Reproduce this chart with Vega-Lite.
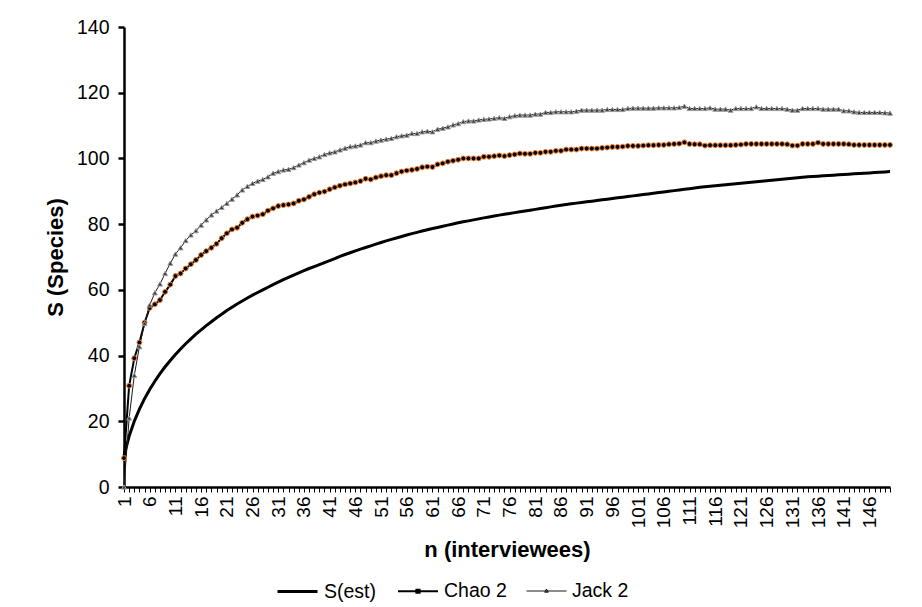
{
"$schema":"https://vega.github.io/schema/vega-lite/v6.json",
"width":766,"height":460,
"autosize":{"type":"none"},
"padding":{"left":124,"top":27,"right":32,"bottom":120},
"background":"white",
"config":{"font":"Liberation Sans","view":{"stroke":null},"axis":{"labelColor":"#000","titleColor":"#000","labelFont":"Liberation Sans","titleFont":"Liberation Sans"}},
"data":{"values":[
{"n":1,"sest":9.5,"chao2":8.8,"jack2":0},
{"n":2,"sest":15.5,"chao2":30.8,"jack2":21},
{"n":3,"sest":20,"chao2":39.2,"jack2":34},
{"n":4,"sest":23.7,"chao2":44,"jack2":42.7},
{"n":5,"sest":26.9,"chao2":50,"jack2":49.8},
{"n":6,"sest":29.7,"chao2":54.5,"jack2":55.4},
{"n":7,"sest":32.2,"chao2":55.6,"jack2":59.1},
{"n":8,"sest":34.5,"chao2":56.9,"jack2":61.8},
{"n":9,"sest":36.6,"chao2":59.4,"jack2":65},
{"n":10,"sest":38.5,"chao2":61.6,"jack2":68.1},
{"n":11,"sest":40.3,"chao2":64.2,"jack2":70.9},
{"n":12,"sest":42,"chao2":65,"jack2":72.8},
{"n":13,"sest":43.6,"chao2":66.5,"jack2":75},
{"n":14,"sest":45.1,"chao2":67.8,"jack2":76.7},
{"n":15,"sest":46.5,"chao2":69.1,"jack2":78},
{"n":16,"sest":47.8,"chao2":70.6,"jack2":79.7},
{"n":17,"sest":49.1,"chao2":71.8,"jack2":81.3},
{"n":18,"sest":50.3,"chao2":72.8,"jack2":82.8},
{"n":19,"sest":51.5,"chao2":74,"jack2":84},
{"n":20,"sest":52.6,"chao2":75.7,"jack2":85.1},
{"n":21,"sest":53.7,"chao2":77.2,"jack2":86.3},
{"n":22,"sest":54.7,"chao2":78.4,"jack2":87.6},
{"n":23,"sest":55.7,"chao2":78.9,"jack2":88.9},
{"n":24,"sest":56.6,"chao2":80.4,"jack2":90.4},
{"n":25,"sest":57.5,"chao2":81.5,"jack2":91.5},
{"n":26,"sest":58.4,"chao2":82.3,"jack2":92.4},
{"n":27,"sest":59.2,"chao2":82.6,"jack2":93.1},
{"n":28,"sest":60,"chao2":83,"jack2":93.6},
{"n":29,"sest":60.8,"chao2":84.1,"jack2":94.4},
{"n":30,"sest":61.6,"chao2":84.8,"jack2":95.5},
{"n":31,"sest":62.35,"chao2":85.5,"jack2":96},
{"n":32,"sest":63.1,"chao2":85.8,"jack2":96.5},
{"n":33,"sest":63.8,"chao2":86,"jack2":96.7},
{"n":34,"sest":64.5,"chao2":86.3,"jack2":97.2},
{"n":35,"sest":65.2,"chao2":87.1,"jack2":98},
{"n":36,"sest":65.85,"chao2":87.5,"jack2":98.7},
{"n":37,"sest":66.5,"chao2":88.3,"jack2":99.5},
{"n":38,"sest":67.1,"chao2":89.1,"jack2":100},
{"n":39,"sest":67.7,"chao2":89.6,"jack2":100.5},
{"n":40,"sest":68.3,"chao2":89.9,"jack2":101.2},
{"n":41,"sest":68.9,"chao2":90.6,"jack2":101.7},
{"n":42,"sest":69.5,"chao2":91.2,"jack2":102},
{"n":43,"sest":70.2,"chao2":91.7,"jack2":102.6},
{"n":44,"sest":70.75,"chao2":92.1,"jack2":103.1},
{"n":45,"sest":71.3,"chao2":92.4,"jack2":103.6},
{"n":46,"sest":71.85,"chao2":92.7,"jack2":103.8},
{"n":47,"sest":72.4,"chao2":93.1,"jack2":104.1},
{"n":48,"sest":72.9,"chao2":93.8,"jack2":104.8},
{"n":49,"sest":73.4,"chao2":93.6,"jack2":104.8},
{"n":50,"sest":73.9,"chao2":94.2,"jack2":105.3},
{"n":51,"sest":74.4,"chao2":94.6,"jack2":105.6},
{"n":52,"sest":74.9,"chao2":94.9,"jack2":105.9},
{"n":53,"sest":75.35,"chao2":94.9,"jack2":106.1},
{"n":54,"sest":75.8,"chao2":95.5,"jack2":106.6},
{"n":55,"sest":76.25,"chao2":96,"jack2":106.9},
{"n":56,"sest":76.7,"chao2":96.3,"jack2":107.1},
{"n":57,"sest":77.1,"chao2":96.5,"jack2":107.6},
{"n":58,"sest":77.5,"chao2":96.8,"jack2":107.6},
{"n":59,"sest":77.9,"chao2":97.3,"jack2":108.1},
{"n":60,"sest":78.3,"chao2":97.5,"jack2":108.3},
{"n":61,"sest":78.65,"chao2":97.4,"jack2":108.1},
{"n":62,"sest":79,"chao2":98.2,"jack2":108.9},
{"n":63,"sest":79.35,"chao2":98.5,"jack2":109.2},
{"n":64,"sest":79.7,"chao2":99,"jack2":109.6},
{"n":65,"sest":80.05,"chao2":99.3,"jack2":110.2},
{"n":66,"sest":80.4,"chao2":99.6,"jack2":110.6},
{"n":67,"sest":80.7,"chao2":100,"jack2":111.2},
{"n":68,"sest":81,"chao2":100,"jack2":111.4},
{"n":69,"sest":81.3,"chao2":100,"jack2":111.4},
{"n":70,"sest":81.6,"chao2":100,"jack2":111.7},
{"n":71,"sest":81.9,"chao2":100.5,"jack2":111.9},
{"n":72,"sest":82.2,"chao2":100.5,"jack2":112},
{"n":73,"sest":82.5,"chao2":100.7,"jack2":112.2},
{"n":74,"sest":82.75,"chao2":100.9,"jack2":112.4},
{"n":75,"sest":83,"chao2":100.7,"jack2":112.2},
{"n":76,"sest":83.25,"chao2":101,"jack2":112.7},
{"n":77,"sest":83.5,"chao2":101.2,"jack2":113},
{"n":78,"sest":83.75,"chao2":101.5,"jack2":113.2},
{"n":79,"sest":84,"chao2":101.4,"jack2":113.2},
{"n":80,"sest":84.25,"chao2":101.4,"jack2":113.2},
{"n":81,"sest":84.5,"chao2":101.7,"jack2":113.5},
{"n":82,"sest":84.75,"chao2":101.7,"jack2":113.5},
{"n":83,"sest":85,"chao2":102,"jack2":114},
{"n":84,"sest":85.25,"chao2":102,"jack2":114},
{"n":85,"sest":85.5,"chao2":102.3,"jack2":114.2},
{"n":86,"sest":85.75,"chao2":102.3,"jack2":114.2},
{"n":87,"sest":85.97,"chao2":102.7,"jack2":114.2},
{"n":88,"sest":86.2,"chao2":102.7,"jack2":114.2},
{"n":89,"sest":86.4,"chao2":102.7,"jack2":114.4},
{"n":90,"sest":86.6,"chao2":103,"jack2":114.7},
{"n":91,"sest":86.8,"chao2":103,"jack2":114.7},
{"n":92,"sest":87,"chao2":103,"jack2":114.7},
{"n":93,"sest":87.2,"chao2":103,"jack2":114.7},
{"n":94,"sest":87.4,"chao2":103.2,"jack2":114.7},
{"n":95,"sest":87.6,"chao2":103.3,"jack2":114.9},
{"n":96,"sest":87.8,"chao2":103.5,"jack2":114.9},
{"n":97,"sest":88,"chao2":103.5,"jack2":114.9},
{"n":98,"sest":88.2,"chao2":103.6,"jack2":114.9},
{"n":99,"sest":88.4,"chao2":103.8,"jack2":115.2},
{"n":100,"sest":88.6,"chao2":103.8,"jack2":115.3},
{"n":101,"sest":88.8,"chao2":103.8,"jack2":115.3},
{"n":102,"sest":89,"chao2":103.9,"jack2":115.3},
{"n":103,"sest":89.2,"chao2":104,"jack2":115.3},
{"n":104,"sest":89.4,"chao2":104,"jack2":115.3},
{"n":105,"sest":89.6,"chao2":104.1,"jack2":115.4},
{"n":106,"sest":89.8,"chao2":104.1,"jack2":115.4},
{"n":107,"sest":90,"chao2":104.3,"jack2":115.4},
{"n":108,"sest":90.2,"chao2":104.4,"jack2":115.4},
{"n":109,"sest":90.4,"chao2":104.5,"jack2":115.5},
{"n":110,"sest":90.6,"chao2":104.9,"jack2":115.9},
{"n":111,"sest":90.8,"chao2":104.4,"jack2":115.2},
{"n":112,"sest":91,"chao2":104.3,"jack2":115.2},
{"n":113,"sest":91.2,"chao2":104.3,"jack2":115.2},
{"n":114,"sest":91.4,"chao2":103.9,"jack2":115.2},
{"n":115,"sest":91.55,"chao2":104,"jack2":115.4},
{"n":116,"sest":91.7,"chao2":104,"jack2":115},
{"n":117,"sest":91.85,"chao2":104,"jack2":115},
{"n":118,"sest":92,"chao2":104,"jack2":115},
{"n":119,"sest":92.15,"chao2":104,"jack2":114.7},
{"n":120,"sest":92.3,"chao2":104.1,"jack2":115.2},
{"n":121,"sest":92.45,"chao2":104.2,"jack2":115.2},
{"n":122,"sest":92.6,"chao2":104.4,"jack2":115.2},
{"n":123,"sest":92.75,"chao2":104.4,"jack2":115.2},
{"n":124,"sest":92.9,"chao2":104.4,"jack2":115.7},
{"n":125,"sest":93.05,"chao2":104.4,"jack2":115.2},
{"n":126,"sest":93.2,"chao2":104.4,"jack2":115.2},
{"n":127,"sest":93.35,"chao2":104.4,"jack2":115.2},
{"n":128,"sest":93.5,"chao2":104.4,"jack2":115.2},
{"n":129,"sest":93.65,"chao2":104.4,"jack2":115.2},
{"n":130,"sest":93.8,"chao2":104.3,"jack2":115},
{"n":131,"sest":93.95,"chao2":103.9,"jack2":114.7},
{"n":132,"sest":94.1,"chao2":103.9,"jack2":114.7},
{"n":133,"sest":94.25,"chao2":104.4,"jack2":115.2},
{"n":134,"sest":94.4,"chao2":104.4,"jack2":115.2},
{"n":135,"sest":94.5,"chao2":104.4,"jack2":115.2},
{"n":136,"sest":94.6,"chao2":104.8,"jack2":115.2},
{"n":137,"sest":94.7,"chao2":104.4,"jack2":115},
{"n":138,"sest":94.8,"chao2":104.4,"jack2":115},
{"n":139,"sest":94.9,"chao2":104.4,"jack2":115},
{"n":140,"sest":95,"chao2":104.4,"jack2":115},
{"n":141,"sest":95.1,"chao2":104.4,"jack2":114.5},
{"n":142,"sest":95.2,"chao2":104.3,"jack2":114.5},
{"n":143,"sest":95.3,"chao2":104.1,"jack2":114.2},
{"n":144,"sest":95.4,"chao2":104.1,"jack2":114},
{"n":145,"sest":95.5,"chao2":104.1,"jack2":114},
{"n":146,"sest":95.6,"chao2":104.1,"jack2":114},
{"n":147,"sest":95.7,"chao2":104.1,"jack2":114},
{"n":148,"sest":95.8,"chao2":104.1,"jack2":114},
{"n":149,"sest":95.9,"chao2":104.1,"jack2":113.9},
{"n":150,"sest":96,"chao2":104.1,"jack2":113.8}
]},
"transform":[{"fold":["sest","chao2","jack2"],"as":["series","S"]}],
"encoding":{
 "x":{"field":"n","type":"quantitative","scale":{"domain":[1,150],"nice":false,"zero":false},
  "axis":{"title":"n (interviewees)","titleFontSize":22,"titleFontWeight":"bold","titlePadding":12,
   "tickCount":150,"labelExpr":"(datum.value-1)%5==0?datum.label:''","labelAngle":-90,"labelFontSize":19,
   "labelPadding":4,"tickSize":5,"tickColor":"#000","tickWidth":1,"domainColor":"#000","domainWidth":2.5,
   "labelOverlap":false,"labelFlush":false,"grid":false}},
 "y":{"field":"S","type":"quantitative","scale":{"domain":[0,140],"nice":false},
  "axis":{"title":"S (Species)","titleFontSize":22,"titleFontWeight":"bold","titlePadding":9,
   "values":[0,20,40,60,80,100,120,140],"labelFontSize":19.5,"labelPadding":9,"tickSize":6,"tickColor":"#000",
   "tickWidth":2.5,"domainColor":"#000","domainWidth":2.5,"grid":false}}
},
"layer":[
 {"mark":{"type":"line","interpolate":"linear"},
  "encoding":{
   "color":{"field":"series","type":"nominal","scale":{"domain":["sest","chao2","jack2"],"range":["#000000","#000000","#1a1a1a"]},
    "legend":{"orient":"none","legendX":152,"legendY":543,"direction":"horizontal","title":null,
     "labelFontSize":19.5,"labelColor":"#000","labelFont":"Liberation Sans","symbolSize":1600,"labelOffset":5,"columnPadding":17,
     "labelExpr":"datum.value=='sest'?'S(est)':datum.value=='chao2'?'Chao 2':'Jack 2'",
     "encode":{"symbols":{"update":{
      "shape":{"signal":"datum.value=='sest'?'M-1,0H1':datum.value=='chao2'?'M-1,0H1M-0.08,-0.08H0.08V0.08H-0.08Z':'M-1,0H1M0,-0.1L0.09,0.06H-0.09Z'"},
      "strokeWidth":{"signal":"datum.value=='sest'?3:1.2"},
      "fill":{"signal":"datum.value=='chao2'?'#ed7d31':'#808080'"},
      "stroke":{"value":"#000000"},
      "opacity":{"value":1}}}}}},
   "strokeWidth":{"field":"series","type":"nominal","scale":{"domain":["sest","chao2","jack2"],"range":[3,1,1]},"legend":null}
  }},
 {"transform":[{"filter":"datum.series!='sest'"}],
  "mark":{"type":"point","strokeWidth":1,"opacity":1},
  "encoding":{
   "shape":{"field":"series","type":"nominal","scale":{"domain":["chao2","jack2"],"range":["circle","triangle-up"]},"legend":null},
   "fill":{"field":"series","type":"nominal","scale":{"domain":["chao2","jack2"],"range":["#000000","#3a3a3a"]},"legend":null},
   "stroke":{"field":"series","type":"nominal","scale":{"domain":["chao2","jack2"],"range":["#ed7d31","#9a9a9a"]},"legend":null},
   "size":{"value":24}
  }}
]
}
